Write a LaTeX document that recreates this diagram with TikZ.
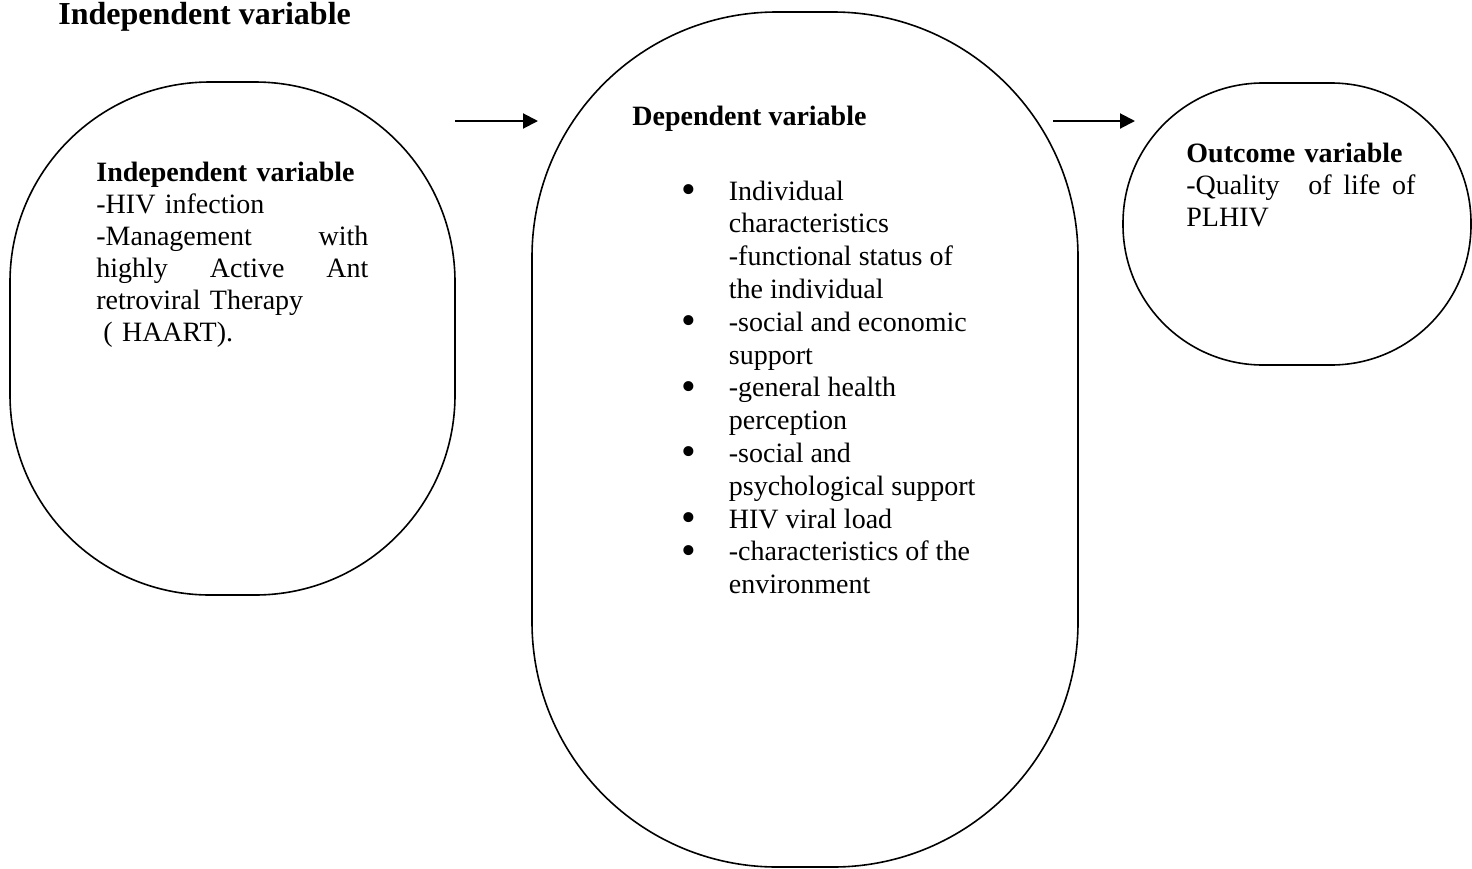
\documentclass[tikz,border=0pt]{standalone}
\usepackage{fontspec}
\setmainfont{Liberation Serif}
\usetikzlibrary{arrows.meta}

\newcommand{\listdot}{\smash{\raisebox{-1.7pt}{\scalebox{1.5}{\textbullet}}}}

\begin{document}
\begin{tikzpicture}[x=0.5pt, y=-0.5pt, >={Triangle[length=7.5pt, width=7.5pt]},
    varshape/.style={rectangle, draw=black, line width=0.8pt, inner sep=0pt},
    vartext/.style={anchor=base west, inner sep=0pt, align=left, font=\fontsize{14}{16}\selectfont}]
  \useasboundingbox (0,0) rectangle (1472,868);

  % the three variable shapes
  \node[varshape, minimum width=222.5pt, minimum height=256.5pt, rounded corners=100pt] (iv) at (232.5,338.5) {};
  \node[varshape, minimum width=273pt, minimum height=427.5pt, rounded corners=122.5pt] (dv) at (805,439.5) {};
  \node[varshape, minimum width=174pt, minimum height=141pt, rounded corners=70pt] (ov) at (1297,224) {};

  % texts
  \node[anchor=base west, inner sep=0pt, font=\fontsize{16}{19}\selectfont\bfseries] (title) at (58,24) {Independent variable};
  \node[vartext, text width=136pt] (ivtext) at (96,181) {\textbf{Independent variable}\\
    -HIV infection\\
    -Management\hfill with\\
    highly\hfill Active\hfill Ant\\
    retroviral Therapy\\
    \hspace*{3.5pt}( HAART).};
  \node[vartext] (dvtitle) at (632,125) {\textbf{Dependent variable}};
  \node[vartext, font=\fontsize{14}{16.4}\selectfont] (dvlist) at (681,200) {%
    \begin{tabular}[t]{@{}p{23.75pt}@{}l@{}}
      \listdot & Individual\\
               & characteristics\\
               & -functional status of\\
               & the individual\\
      \listdot & -social and economic\\
               & support\\
      \listdot & -general health\\
               & perception\\
      \listdot & -social and\\
               & psychological support\\
      \listdot & HIV viral load\\
      \listdot & -characteristics of the\\
               & environment
    \end{tabular}};
  \node[vartext, text width=114.5pt] (ovtext) at (1186,162) {\textbf{Outcome variable}\\
    -Quality\hspace{\stretch{2.5}}of\hfill life\hfill of\\
    PLHIV};

  % arrows
  \coordinate (a0) at (455,121);
  \coordinate (a1) at (538,121);
  \coordinate (b0) at (1053,121);
  \coordinate (b1) at (1135,121);
  \draw[->, line width=1pt] (a0)--(a1);
  \draw[->, line width=1pt] (b0)--(b1);
\end{tikzpicture}
\end{document}
